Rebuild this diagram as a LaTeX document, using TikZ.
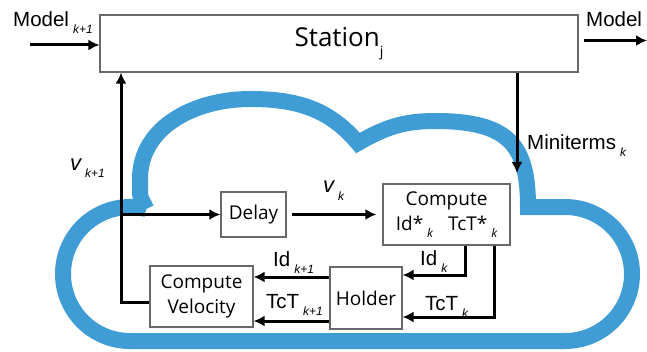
\documentclass[tikz,border=0pt]{standalone}
\usepackage{fontspec}
\setmainfont{Liberation Sans}
\newfontfamily\boxfont{Open Sans}
\usetikzlibrary{arrows.meta}
\usetikzlibrary{calc}

\definecolor{cloudblue}{RGB}{64,156,212}
\definecolor{boxgray}{RGB}{105,105,105}

\newcommand{\lsub}[1]{\hspace{4pt}\raisebox{-7pt}{\fontsize{12}{12}\selectfont\itshape #1}}

\tikzset{
	block/.style={draw=boxgray,line width=1.2pt,fill=white,inner sep=0pt,align=center,font=\boxfont\fontsize{19}{25}\selectfont},
	lbl/.style={anchor=base west,inner sep=0pt,font=\fontsize{20.5}{20.5}\selectfont},
	sig/.style={line width=3pt,->},
}

\begin{document}
\begin{tikzpicture}[x=1pt,y=1pt,>={Latex[length=11pt,width=11pt]}]
	\useasboundingbox (0,0) rectangle (647,351);
	%\draw[style=help lines,gray!50] (0,0) grid[step=50] (647,351);

	% cloud
	\draw[cloudblue,line width=16pt] (146.2,142) arc[start angle=76,end angle=270,radius=67pt] -- (565,10) arc[start angle=-90,end angle=90,radius=67pt] -- (528,144) .. controls (528,205) and (510,230) .. (435,230) to[out=180,in=30] (358,208) to[out=130,in=0] (250,252) to[out=180,in=90] (140,172) -- (140,158) to[out=270,in=110] (146.2,142);

	\node[block,minimum width=478pt,minimum height=57pt] at (339,307.5) (station) {\fontsize{26}{26}\selectfont Station\raisebox{-10pt}{\fontsize{14}{14}\selectfont j}};
	\node[block,minimum width=65pt,minimum height=45pt] at (253.5,136.5) (delay) {Delay};
	\node[block,minimum width=127pt,minimum height=61pt] at (446.5,136.5) (comp) {Compute\\Id*\lsub{k}\hspace{15pt}TcT*\lsub{k}};
	\node[block,minimum width=72pt,minimum height=62pt] at (366,53) (holder) {Holder};
	\node[block,minimum width=103pt,minimum height=61pt] at (201.5,54.5) (cvel) {Compute\\Velocity};

	\coordinate (min) at (30,306);
	\coordinate (mout) at (647,310.5);
	\coordinate (mt) at (517,178);
	\coordinate (fb) at (121,49);
	\coordinate (idk) at (465,76);
	\coordinate (tck) at (494,34);

	\draw[sig] (min) -- (min -| station.west);
	\draw[sig] ($(station.east |- mout)+(5,0)$) -- (mout);
	\draw[sig] (mt |- station.south) -- (mt);

	\draw[sig] (fb -| cvel.west) -- (fb) -- (fb |- station.south);
	\draw[sig] (fb |- delay.west) -- (delay.west);
	\draw[sig,shorten <=5pt,shorten >=6pt] (delay.east) -- (comp.west);

	\draw[sig] (idk |- comp.south) -- (idk) -- (idk -| holder.east);
	\draw[sig] (tck |- comp.south) -- (tck) -- (tck -| holder.east);

	\draw[sig] ([yshift=21pt]holder.west) -- ([yshift=21pt]holder.west -| cvel.east);
	\draw[sig] ([yshift=-23pt]holder.west) -- ([yshift=-23pt]holder.west -| cvel.east);

	\node[lbl] at (13,324) (modelin) {Model\lsub{k+1}};
	\node[lbl] at (586,324) (modelout) {Model};
	\node[lbl] at (527,201) (mterms) {Miniterms\lsub{k}};
	\node[lbl,font=\fontsize{22}{22}\selectfont\itshape] at (70,180) (vnext) {v\lsub{k+1}};
	\node[lbl,font=\fontsize{22}{22}\selectfont\itshape] at (323,158) (vk) {v\lsub{k}};
	\node[lbl] at (273,85) (idnext) {Id\lsub{k+1}};
	\node[lbl] at (266,43) (tctnext) {TcT\lsub{k+1}};
	\node[lbl] at (420,86) (idlbl) {Id\lsub{k}};
	\node[lbl] at (425,41) (tctlbl) {TcT\lsub{k}};
\end{tikzpicture}
\end{document}
